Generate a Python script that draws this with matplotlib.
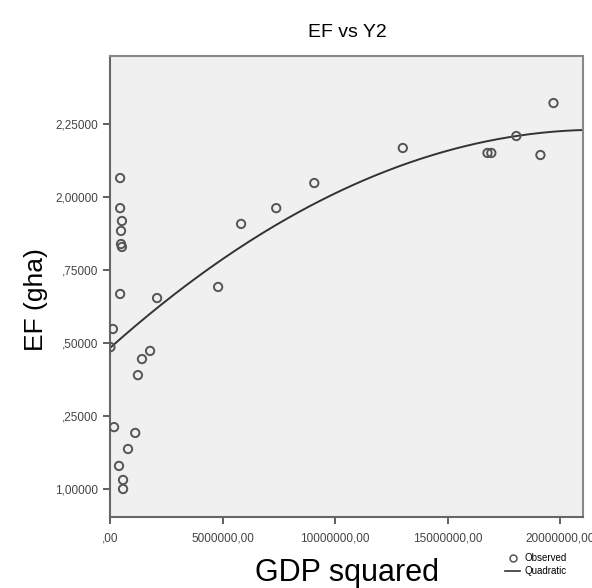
import numpy as np
import matplotlib
matplotlib.use("Agg")
import matplotlib.pyplot as plt
from matplotlib.lines import Line2D

plt.rcParams['font.family'] = ['Liberation Sans', 'DejaVu Sans']

# Observed values: GDP squared vs ecological footprint (gha)
gdp_sq = [
    0.45e6, 0.45e6, 0.53e6, 0.49e6, 0.49e6, 0.53e6, 0.45e6, 0.13e6, 0.02e6,
    1.42e6, 1.78e6, 1.24e6, 0.18e6, 1.12e6, 0.80e6, 0.40e6, 0.58e6, 0.58e6,
    2.09e6, 4.80e6, 5.82e6, 7.38e6, 9.07e6, 13.0e6, 16.76e6, 16.93e6,
    18.04e6, 19.11e6, 19.69e6,
]
ef = [
    2.065, 1.962, 1.918, 1.884, 1.839, 1.829, 1.668, 1.548, 1.486,
    1.445, 1.473, 1.390, 1.212, 1.192, 1.137, 1.079, 1.031, 1.000,
    1.654, 1.692, 1.908, 1.962, 2.048, 2.168, 2.151, 2.151,
    2.209, 2.144, 2.322,
]

# Quadratic fit: EF = b0 + b1*x + b2*x^2
b0, b1, b2 = 1.483, 6.884e-8, -1.585e-15

x_ticks = [0, 5e6, 10e6, 15e6, 20e6]
x_tick_labels = [",00", "5000000,00", "10000000,00", "15000000,00", "20000000,00"]
y_ticks = [1.00, 1.25, 1.50, 1.75, 2.00, 2.25]
y_tick_labels = ["1,00000", ",25000", ",50000", ",75000", "2,00000", "2,25000"]

fig = plt.figure(figsize=(5.92, 5.88), dpi=100)
ax = fig.add_axes([0.1858, 0.1207, 0.799, 0.784])
ax.set_facecolor("#f0f0f0")

ax.scatter(gdp_sq, ef, s=36, facecolors="none", edgecolors="#555555",
           linewidths=1.4, zorder=3)

xs = np.linspace(0, 21e6, 300)
ax.plot(xs, b0 + b1 * xs + b2 * xs ** 2, color="#333333", lw=1.4, zorder=2)

ax.set_xlim(0, 21e6)
ax.set_ylim(0.904, 2.483)
ax.set_xticks(x_ticks)
ax.set_xticklabels(x_tick_labels)
ax.set_yticks(y_ticks)
ax.set_yticklabels(y_tick_labels)
ax.tick_params(axis="both", labelsize=8.5, colors="#444444", length=5,
               width=1.2, direction="out")
ax.tick_params(axis="x", pad=6)
for s in ax.spines.values():
    s.set_color("#888888")
    s.set_linewidth(1.5)
ax.spines["left"].set_color("#666666")
ax.spines["bottom"].set_color("#666666")

fig.text(0.586, 0.945, "EF vs Y2", ha="center", va="center", fontsize=14)
fig.text(0.06, 0.49, "EF (gha)", ha="center", va="center", rotation=90,
         fontsize=19)
fig.text(0.586, 0.026, "GDP squared", ha="center", va="center", fontsize=22)

handles = [
    Line2D([], [], ls="none", marker="o", mfc="none", mec="#555555", ms=5,
           mew=1.1),
    Line2D([], [], color="#333333", lw=1.2),
]
fig.legend(handles, ["Observed", "Quadratic"], loc="center",
           bbox_to_anchor=(0.905, 0.04), frameon=False, fontsize=7,
           handlelength=1.6, handletextpad=0.4, labelspacing=0.3,
           borderpad=0)

fig.savefig("out.png", dpi=100)
